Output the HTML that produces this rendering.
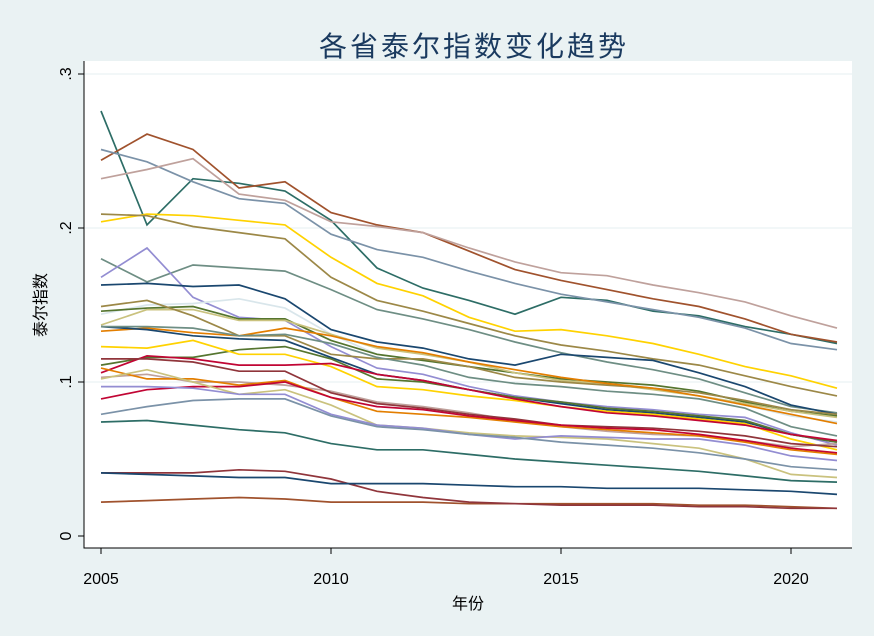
<!DOCTYPE html>
<html><head><meta charset="utf-8"><style>
body{margin:0;background:#eaf2f3;}
svg{display:block;font-family:"Liberation Sans","Noto Sans CJK SC",sans-serif;}
</style></head><body>
<svg id="c" width="874" height="636">
<rect x="0" y="0" width="874" height="636" fill="#eaf2f3"/>
<rect x="84" y="61" width="768" height="487" fill="#ffffff"/>
<text x="474" y="56" text-anchor="middle" font-size="28" letter-spacing="3" fill="#1a3a5f">各省泰尔指数变化趋势</text>
<text x="468" y="609" text-anchor="middle" font-size="16" fill="#000">年份</text>
<text x="0" y="0" transform="translate(46,305) rotate(-90)" text-anchor="middle" font-size="16" fill="#000">泰尔指数</text>
<g id="grid"></g><g id="lines"></g><g id="axes"></g>
</svg>
<script>
const years=[2005,2006,2007,2008,2009,2010,2011,2012,2013,2014,2015,2016,2017,2018,2019,2020,2021];
const xTicks=[2005,2010,2015,2020];
const yTicks=[0,0.1,0.2,0.3];
const yTickLabels=["0",".1",".2",".3"];
const colors=["#2d6d66","#a0522d","#7b92a8","#bfa19c","#ffd200","#9c8847","#6e8e84","#938dd2","#1a476f","#d9e6eb","#55752f","#cac27e","#9c8847","#e37e00","#1a476f","#6e8e84","#55752f","#ffd200","#c10534","#bfa19c","#90353b","#e37e00","#c10534","#cac27e","#938dd2","#7b92a8","#2d6d66","#a0522d","#90353b","#1a476f"];
const s01=[.276,.202,.232,.229,.224,.205,.174,.161,.153,.144,.155,.153,.146,.143,.136,.131,.125];
const s02=[.244,.261,.251,.226,.230,.210,.202,.197,.185,.173,.166,.160,.154,.149,.141,.131,.126];
const s03=[.251,.243,.230,.219,.216,.196,.186,.181,.172,.164,.157,.152,.147,.142,.135,.125,.121];
const s04=[.232,.238,.245,.222,.218,.204,.201,.197,.187,.178,.171,.169,.163,.158,.152,.143,.135];
const s05=[.204,.209,.208,.205,.202,.181,.164,.156,.142,.133,.134,.130,.125,.118,.110,.104,.096];
const s06=[.209,.208,.201,.197,.193,.168,.153,.146,.138,.130,.124,.120,.115,.111,.104,.097,.091];
const s07=[.180,.165,.176,.174,.172,.160,.147,.141,.134,.126,.119,.113,.108,.102,.093,.084,.080];
const s08=[.168,.187,.155,.142,.140,.123,.109,.105,.097,.091,.087,.084,.082,.079,.077,.067,.059];
const s09=[.163,.164,.162,.163,.154,.134,.126,.122,.115,.111,.118,.116,.114,.106,.097,.085,.079];
const s10=[.144,.150,.151,.154,.148,.131,.118,.114,.110,.106,.102,.099,.096,.091,.085,.078,.074];
const s11=[.146,.148,.149,.141,.141,.127,.118,.114,.110,.106,.102,.100,.098,.094,.087,.081,.078];
const s12=[.137,.147,.147,.140,.140,.131,.122,.118,.113,.106,.101,.099,.095,.091,.086,.081,.077];
const s13=[.149,.153,.143,.130,.130,.118,.115,.115,.110,.103,.100,.098,.096,.093,.088,.082,.079];
const s14=[.133,.135,.132,.130,.135,.130,.123,.119,.113,.108,.103,.099,.096,.091,.085,.079,.073];
const s15=[.136,.134,.130,.128,.127,.116,.105,.101,.095,.090,.086,.082,.080,.077,.074,.066,.061];
const s16=[.136,.136,.135,.130,.131,.125,.116,.111,.103,.099,.097,.094,.092,.089,.083,.071,.065];
const s17=[.111,.116,.116,.121,.123,.115,.102,.100,.095,.090,.087,.083,.081,.078,.075,.066,.061];
const s18=[.123,.122,.127,.118,.118,.110,.097,.095,.091,.088,.084,.081,.079,.076,.073,.063,.056];
const s19=[.106,.117,.115,.111,.111,.112,.105,.101,.095,.089,.084,.080,.078,.075,.072,.066,.062];
const s20=[.103,.105,.100,.100,.098,.094,.087,.084,.080,.075,.071,.068,.066,.065,.062,.058,.060];
const s21=[.115,.115,.113,.107,.107,.093,.086,.083,.079,.076,.072,.071,.070,.068,.065,.060,.058];
const s22=[.109,.102,.102,.098,.101,.090,.081,.079,.077,.074,.071,.069,.067,.065,.061,.056,.053];
const s23=[.089,.095,.097,.097,.100,.090,.084,.082,.078,.075,.072,.070,.069,.066,.062,.057,.054];
const s24=[.102,.108,.100,.092,.095,.085,.072,.070,.067,.065,.064,.063,.060,.057,.050,.040,.038];
const s25=[.097,.097,.096,.092,.092,.079,.072,.070,.066,.063,.065,.064,.063,.063,.059,.052,.049];
const s26=[.079,.084,.088,.089,.089,.078,.071,.069,.066,.064,.061,.059,.057,.054,.050,.045,.043];
const s27=[.074,.075,.072,.069,.067,.060,.056,.056,.053,.050,.048,.046,.044,.042,.039,.036,.035];
const s28=[.022,.023,.024,.025,.024,.022,.022,.022,.021,.021,.021,.021,.021,.020,.020,.019,.018];
const s29=[.041,.041,.041,.043,.042,.037,.029,.025,.022,.021,.020,.020,.020,.019,.019,.018,.018];
const s30=[.041,.040,.039,.038,.038,.034,.034,.034,.033,.032,.032,.031,.031,.031,.030,.029,.027];
const series=[s01,s02,s03,s04,s05,s06,s07,s08,s09,s10,s11,s12,s13,s14,s15,s16,s17,s18,s19,s20,s21,s22,s23,s24,s25,s26,s27,s28,s29,s30];
const NS="http://www.w3.org/2000/svg";
function xs(v){return 101+(v-2005)*46;}
function ys(v){return 536-v*1540;}
const grid=document.getElementById('grid'),lines=document.getElementById('lines'),axes=document.getElementById('axes');
function mk(tag,attrs,parent){const e=document.createElementNS(NS,tag);for(const k in attrs)e.setAttribute(k,attrs[k]);parent.appendChild(e);return e;}
yTicks.forEach((t,i)=>{
  if(t>0){const g=mk('line',{x1:84,x2:852,y1:ys(t),y2:ys(t),stroke:'#eaf2f3','stroke-width':1.2},grid);
  
  }
  const tk=mk('line',{x1:78,x2:84,y1:ys(t),y2:ys(t),stroke:'#000'},axes);
  
  
  const y=ys(t);
  const lb=mk('text',{transform:`translate(71,${y}) rotate(-90)`,'text-anchor':'middle','font-size':16},axes);
  lb.textContent=yTickLabels[i];
  
  
});
xTicks.forEach(t=>{
  const tk=mk('line',{x1:xs(t),x2:xs(t),y1:548,y2:554,stroke:'#000'},axes);
  
  
  const lb=mk('text',{x:xs(t),y:584,'text-anchor':'middle','font-size':16},axes);
  lb.textContent=t;
  
  
});
const ax=mk('path',{d:'M84,61 V548 H852',fill:'none',stroke:'#000','stroke-width':1},axes);


series.forEach((s,i)=>{
  const d=s.map((v,j)=>(j?'L':'M')+xs(years[j]).toFixed(1)+','+ys(v).toFixed(1)).join(' ');
  const p=mk('path',{d:d,fill:'none',stroke:colors[i],'stroke-width':1.7},lines);
  
  
});
</script>
</body></html>
